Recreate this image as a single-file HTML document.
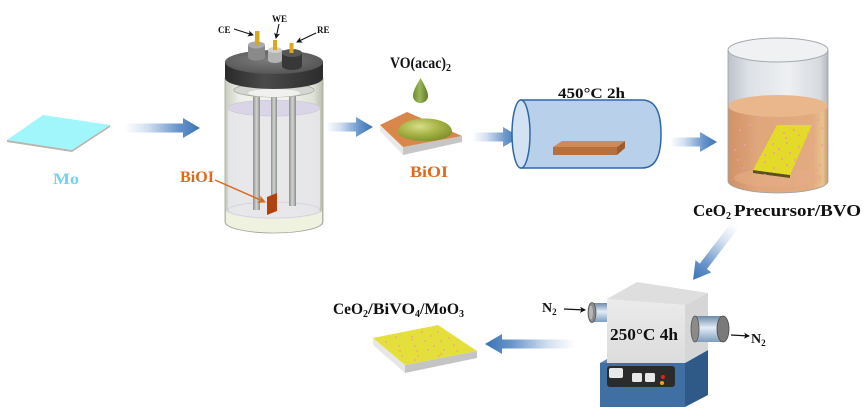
<!DOCTYPE html>
<html><head><meta charset="utf-8"><style>
html,body{margin:0;padding:0;background:#fff;}
svg{display:block;}
text{font-family:"Liberation Serif",serif;font-weight:bold;}
</style></head><body>
<svg width="864" height="417" viewBox="0 0 864 417" xmlns="http://www.w3.org/2000/svg">
<defs>
<linearGradient id="arr" x1="0" y1="0" x2="1" y2="0">
<stop offset="0" stop-color="#ffffff"/><stop offset="0.3" stop-color="#d3e0f0"/><stop offset="0.7" stop-color="#6b96cc"/><stop offset="1" stop-color="#3a72b5"/>
</linearGradient>
<linearGradient id="glass" x1="0" y1="0" x2="1" y2="0">
<stop offset="0" stop-color="#c9cdc0"/><stop offset="0.15" stop-color="#eef0e8"/><stop offset="0.6" stop-color="#f4f5f0"/><stop offset="0.9" stop-color="#dfe2d6"/><stop offset="1" stop-color="#b9bdb0"/>
</linearGradient>
<linearGradient id="lidside" x1="0" y1="0" x2="1" y2="0">
<stop offset="0" stop-color="#2a2a2a"/><stop offset="0.4" stop-color="#4a4a4a"/><stop offset="1" stop-color="#2c2c2c"/>
</linearGradient>
<radialGradient id="lidtop" cx="0.45" cy="0.4" r="0.6">
<stop offset="0" stop-color="#7c7c7c"/><stop offset="1" stop-color="#565656"/>
</radialGradient>
<linearGradient id="rod" x1="0" y1="0" x2="1" y2="0">
<stop offset="0" stop-color="#8d918d"/><stop offset="0.5" stop-color="#d2d5d0"/><stop offset="1" stop-color="#8a8e8a"/>
</linearGradient>
<radialGradient id="dome" cx="0.4" cy="0.35" r="0.7">
<stop offset="0" stop-color="#d7de8a"/><stop offset="0.5" stop-color="#a9b548"/><stop offset="1" stop-color="#7f8f2a"/>
</radialGradient>
<linearGradient id="drop" x1="0" y1="0" x2="1" y2="0">
<stop offset="0" stop-color="#6c8a30"/><stop offset="0.45" stop-color="#9cb55a"/><stop offset="1" stop-color="#5e7a28"/>
</linearGradient>
<linearGradient id="beakglass" x1="0" y1="0" x2="1" y2="0">
<stop offset="0" stop-color="#b6bcc4"/><stop offset="0.2" stop-color="#d9dde2"/><stop offset="0.6" stop-color="#eceef0"/><stop offset="0.92" stop-color="#d2d6db"/><stop offset="1" stop-color="#aab0b8"/>
</linearGradient>
<linearGradient id="liq" x1="0" y1="0" x2="1" y2="0">
<stop offset="0" stop-color="#d09168"/><stop offset="0.3" stop-color="#e0a67c"/><stop offset="0.85" stop-color="#e2ab80"/><stop offset="0.95" stop-color="#e8c38e"/><stop offset="1" stop-color="#c99a6c"/>
</linearGradient>
<linearGradient id="ftube" x1="0" y1="0" x2="0" y2="1">
<stop offset="0" stop-color="#6d8aa8"/><stop offset="0.45" stop-color="#e2edf7"/><stop offset="1" stop-color="#7f9cbc"/>
</linearGradient>
<linearGradient id="ffront" x1="0" y1="0" x2="0" y2="1">
<stop offset="0" stop-color="#ebebeb"/><stop offset="1" stop-color="#dcdcdc"/>
</linearGradient>
<marker id="ah" markerWidth="6" markerHeight="6" refX="5" refY="3" orient="auto" markerUnits="userSpaceOnUse">
<path d="M0,0 L6,3 L0,6 L1.5,3 Z" fill="#111"/>
</marker>
<marker id="aho" markerWidth="8" markerHeight="8" refX="7" refY="4" orient="auto" markerUnits="userSpaceOnUse">
<path d="M0,0 L8,4 L0,8 L2,4 Z" fill="#d9691e"/>
</marker>
</defs>

<!-- Mo plate -->
<polygon points="7,140 72,150 110,125 110,127 72,152 7,142" fill="#b9b4ac"/>
<polygon points="7,140 43,115 110,125 72,150" fill="#a0f6fb"/>
<text x="53" y="184" font-size="16" fill="#6fd3f1" textLength="26" lengthAdjust="spacingAndGlyphs">Mo</text>

<!-- arrows -->
<path transform="translate(125,128)" d="M0,-4.5 H58 V-10 L75,0 L58,10 V4.5 H0 Z" fill="url(#arr)"/>
<path transform="translate(326,127)" d="M0,-4.5 H30 V-10 L47,0 L30,10 V4.5 H0 Z" fill="url(#arr)"/>
<path transform="translate(472,137)" d="M0,-4.5 H31 V-10 L48,0 L31,10 V4.5 H0 Z" fill="url(#arr)"/>
<path transform="translate(670,142)" d="M0,-4.5 H30 V-10 L47,0 L30,10 V4.5 H0 Z" fill="url(#arr)"/>
<path transform="translate(735,225) rotate(127.4)" d="M0,-4.5 H52 V-10 L69,0 L52,10 V4.5 H0 Z" fill="url(#arr)"/>
<path transform="translate(575,344) rotate(180)" d="M0,-4.5 H73 V-10 L90,0 L73,10 V4.5 H0 Z" fill="url(#arr)"/>

<!-- Electrochemical cell -->
<path d="M225,78 L225,222 A49,11 0 0 0 323,222 L323,78 Z" fill="url(#glass)" stroke="#9ea392" stroke-width="0.8"/>
<path d="M228,108 L228,212 A46,9 0 0 0 320,212 L320,108 Z" fill="#e7e7ea" opacity="0.9"/>
<ellipse cx="274" cy="108" rx="46" ry="8" fill="#dad5e6" stroke="#c8c2d8" stroke-width="0.6"/>
<path d="M226,210 L226,222 A48,10 0 0 0 322,222 L322,210 A48,9 0 0 1 226,210 Z" fill="#eef2df"/>
<ellipse cx="274" cy="210" rx="46" ry="8" fill="none" stroke="#cfcfe0" stroke-width="0.8"/>
<!-- rods -->
<rect x="253" y="92" width="7" height="118" fill="url(#rod)"/>
<rect x="271" y="92" width="6" height="104" fill="url(#rod)"/>
<rect x="289" y="92" width="7" height="114" fill="url(#rod)"/>
<!-- inner rim -->
<ellipse cx="274" cy="90" rx="40" ry="7" fill="#d4d6d2" stroke="#a9aca6" stroke-width="0.8"/>
<ellipse cx="274" cy="93" rx="26" ry="4" fill="#f0f1ee"/>
<!-- BiOI electrode -->
<polygon points="267,197 277,193 277,211 267,215" fill="#b0420f"/>
<line x1="215" y1="180" x2="265" y2="202" stroke="#d9691e" stroke-width="1.5" marker-end="url(#aho)"/>
<text x="180" y="182" font-size="16" fill="#e06a1c" textLength="34" lengthAdjust="spacingAndGlyphs">BiOI</text>
<!-- lid -->
<path d="M225,62 L225,78 A49,11 0 0 0 323,78 L323,62 Z" fill="url(#lidside)"/>
<ellipse cx="274" cy="62" rx="49" ry="12" fill="url(#lidtop)"/>
<!-- caps -->
<path d="M248,45 L248,57 A8.5,3.5 0 0 0 265,57 L265,45 Z" fill="#8a8a8a"/>
<ellipse cx="256.5" cy="45" rx="8.5" ry="3.5" fill="#a9a9a9"/>
<path d="M268,50 L268,60 A7,3 0 0 0 282,60 L282,50 Z" fill="#b4b4b4"/>
<ellipse cx="275" cy="50" rx="7" ry="3" fill="#d0d0d0"/>
<path d="M282,53 L282,66 A10,4 0 0 0 302,66 L302,53 Z" fill="#383838"/>
<ellipse cx="292" cy="53" rx="10" ry="4" fill="#565656"/>
<!-- pins -->
<rect x="255" y="31" width="4.5" height="14" fill="#d9a81e"/>
<rect x="273" y="40" width="4" height="10" fill="#d9a81e"/>
<rect x="289.5" y="43" width="4" height="10" fill="#d9a81e"/>
<!-- labels -->
<text x="218" y="33" font-size="9" fill="#111">CE</text>
<text x="272" y="22" font-size="9" fill="#111">WE</text>
<text x="317" y="33" font-size="9" fill="#111">RE</text>
<line x1="234" y1="29" x2="253" y2="35" stroke="#111" stroke-width="1.1" marker-end="url(#ah)"/>
<line x1="279" y1="24" x2="276" y2="38" stroke="#111" stroke-width="1.1" marker-end="url(#ah)"/>
<line x1="316" y1="33" x2="297" y2="42" stroke="#111" stroke-width="1.1" marker-end="url(#ah)"/>

<!-- Drop-coating -->
<text x="390" y="68" font-size="16" fill="#111"><tspan textLength="56" lengthAdjust="spacingAndGlyphs">VO(acac)</tspan><tspan font-size="10" dy="3">2</tspan></text>
<path d="M420.5,78 C416,86 413,91 413,96 A7.5,7 0 0 0 428,96 C428,91 425,86 420.5,78 Z" fill="url(#drop)"/>
<polygon points="380,125 403,147 403,155 380,131" fill="#e9e9e9"/>
<polygon points="403,147 462,136 462,142 403,155" fill="#c6c6c6"/>
<polygon points="380,125 407,112 462,136 403,147" fill="#d9864a"/>
<path d="M398,132 C398,114 452,114 452,132 A27,9 0 0 1 398,132 Z" fill="url(#dome)"/>
<text x="410" y="177" font-size="16" fill="#e06a1c" textLength="38" lengthAdjust="spacingAndGlyphs">BiOI</text>

<!-- Tube furnace 450 -->
<text x="558" y="98" font-size="15" fill="#111" textLength="67" lengthAdjust="spacingAndGlyphs">450°C 2h</text>
<path d="M521,100 L642,100 C657,100 661,115 661,134 C661,153 657,168 642,168 L521,168 Z" fill="#b9d0ea" stroke="#2f67a6" stroke-width="1.5"/>
<ellipse cx="521" cy="134" rx="9" ry="34" fill="#d2e2f3" stroke="#2f67a6" stroke-width="1.5"/>
<polygon points="553,147 617,147 617,155 553,155" fill="#b86f3e"/>
<polygon points="617,147 625,141 625,148 617,155" fill="#9c5a30"/>
<polygon points="553,147 562,141 625,141 617,147" fill="#d08a56"/>

<!-- Beaker -->
<ellipse cx="778" cy="50" rx="50" ry="12" fill="#f0f1f3"/>
<path d="M728,50 L728,181 A50,12 0 0 0 828,181 L828,50 A50,12 0 0 1 728,50 Z" fill="url(#beakglass)" opacity="0.9"/>
<path d="M728,106 L728,181 A50,12 0 0 0 828,181 L828,106 Z" fill="url(#liq)"/>
<ellipse cx="778" cy="106" rx="50" ry="11" fill="#eab68c"/>
<ellipse cx="778" cy="178" rx="44" ry="9" fill="#e4ad84" opacity="0.6"/>
<polygon points="753,170 790,175 790,178 753,173" fill="#5b5020"/>
<polygon points="753,170 777,125 812,125 790,175" fill="#e3da2a"/>
<g fill="#f29aa8">
<circle cx="765" cy="162" r="1"/><circle cx="774" cy="168" r="1"/><circle cx="787" cy="165" r="1"/><circle cx="774" cy="153" r="1"/><circle cx="790" cy="153" r="1"/><circle cx="773" cy="144" r="1"/><circle cx="787" cy="143" r="1"/><circle cx="799" cy="147" r="1"/><circle cx="784" cy="133" r="1"/><circle cx="799" cy="135" r="1"/><circle cx="794" cy="130" r="1"/><circle cx="808" cy="134" r="1"/><circle cx="765" cy="155" r="1"/><circle cx="782" cy="159" r="1"/><circle cx="786" cy="138" r="1"/><circle cx="779" cy="149" r="1"/><circle cx="795" cy="160" r="1"/>
<circle cx="740" cy="130" r="1"/><circle cx="745" cy="145" r="1"/><circle cx="738" cy="160" r="1"/><circle cx="750" cy="125" r="1"/><circle cx="760" cy="118" r="1"/><circle cx="742" cy="175" r="1"/><circle cx="748" cy="185" r="1"/><circle cx="805" cy="160" r="1"/><circle cx="810" cy="150" r="1"/><circle cx="815" cy="140" r="1"/><circle cx="820" cy="165" r="1"/><circle cx="808" cy="175" r="1"/><circle cx="815" cy="178" r="1"/><circle cx="800" cy="182" r="1"/><circle cx="770" cy="182" r="1"/><circle cx="760" cy="185" r="1"/><circle cx="822" cy="128" r="1"/><circle cx="818" cy="120" r="1"/><circle cx="735" cy="150" r="1"/><circle cx="755" cy="138" r="1"/><circle cx="798" cy="168" r="1"/><circle cx="812" cy="158" r="1"/><circle cx="805" cy="185" r="1"/><circle cx="825" cy="150" r="1"/><circle cx="765" cy="175" r="1"/><circle cx="780" cy="182" r="1"/><circle cx="790" cy="186" r="1"/><circle cx="744" cy="168" r="1"/><circle cx="752" cy="150" r="1"/><circle cx="817" cy="170" r="1"/><circle cx="822" cy="145" r="1"/><circle cx="803" cy="177" r="1"/>
</g>
<ellipse cx="778" cy="50" rx="50" ry="12" fill="none" stroke="#a4aab2" stroke-width="1"/>
<path d="M728,50 L728,181 A50,12 0 0 0 828,181 L828,50" fill="none" stroke="#9aa1aa" stroke-width="0.8"/>
<text x="693" y="216" font-size="17" fill="#111"><tspan textLength="33" lengthAdjust="spacingAndGlyphs">CeO</tspan><tspan font-size="10" dy="3">2</tspan><tspan dy="-3" dx="3" textLength="127" lengthAdjust="spacingAndGlyphs">Precursor/BVO</tspan></text>

<!-- Furnace -->
<!-- left tube -->
<rect x="592" y="303" width="16" height="19" fill="url(#ftube)"/>
<ellipse cx="592" cy="312.5" rx="4" ry="10" fill="#8a8a8a" stroke="#555" stroke-width="0.8"/>
<ellipse cx="591" cy="312.5" rx="2" ry="7" fill="#b5b5b5"/>
<text x="542" y="312" font-size="14" fill="#111">N<tspan font-size="9" dy="3">2</tspan></text>
<line x1="564" y1="309" x2="585" y2="310" stroke="#111" stroke-width="1.2" marker-end="url(#ah)"/>
<!-- base -->
<polygon points="685,363 708,350 708,395 685,407" fill="#2f5a88"/>
<polygon points="600,363 685,363 685,407 600,407" fill="#3f6fa3"/>
<polygon points="600,363 607,359 708,350 685,363" fill="#5f86b3"/>
<rect x="607" y="366" width="68" height="21" rx="3" fill="#2b2b2b"/>
<rect x="609" y="368" width="14" height="10" rx="2" fill="#e8e8e8"/>
<rect x="632" y="373" width="10" height="9" rx="1.5" fill="#e8e8e8"/>
<rect x="645" y="373" width="10" height="9" rx="1.5" fill="#e8e8e8"/>
<circle cx="663" cy="377" r="2" fill="#e12020"/>
<circle cx="662" cy="383" r="2" fill="#f0a020"/>
<!-- box -->
<polygon points="607,299 685,305 685,363 607,363" fill="url(#ffront)"/>
<polygon points="685,305 708,293 708,350 685,363" fill="#d6d6d6"/>
<polygon points="607,299 637,282 708,293 685,305" fill="#dedede"/>
<!-- right tube -->
<rect x="695" y="316" width="28" height="26" fill="url(#ftube)"/>
<ellipse cx="695" cy="329" rx="4" ry="13" fill="#8a8a8a" stroke="#555" stroke-width="0.8"/>
<ellipse cx="723" cy="329" rx="6" ry="13" fill="#7a7a7a" stroke="#4a4a4a" stroke-width="0.8"/>
<text x="610" y="340" font-size="17" fill="#111" textLength="68" lengthAdjust="spacingAndGlyphs">250°C 4h</text>
<line x1="731" y1="335" x2="749" y2="336" stroke="#111" stroke-width="1.2" marker-end="url(#ah)"/>
<text x="751" y="343" font-size="14" fill="#111">N<tspan font-size="9" dy="3">2</tspan></text>

<!-- Final product -->
<text x="333" y="314" font-size="16" fill="#111"><tspan textLength="30" lengthAdjust="spacingAndGlyphs">CeO</tspan><tspan font-size="10" dy="3">2</tspan><tspan dy="-3" textLength="47" lengthAdjust="spacingAndGlyphs">/BiVO</tspan><tspan font-size="10" dy="3">4</tspan><tspan dy="-3" textLength="39" lengthAdjust="spacingAndGlyphs">/MoO</tspan><tspan font-size="10" dy="3">3</tspan></text>
<polygon points="373,338 405,365 405,373 373,345" fill="#e6e6e6"/>
<polygon points="405,365 477,351 477,358 405,373" fill="#c4c4c4"/>
<polygon points="373,338 438,325 477,351 405,365" fill="#e5df3c"/>
<g fill="#efa19a">
<circle cx="386" cy="342" r="0.9"/><circle cx="396" cy="337" r="0.9"/><circle cx="412" cy="337" r="0.9"/><circle cx="422" cy="332" r="0.9"/><circle cx="438" cy="332" r="0.9"/><circle cx="399" cy="346" r="0.9"/><circle cx="415" cy="346" r="0.9"/><circle cx="425" cy="341" r="0.9"/><circle cx="441" cy="341" r="0.9"/><circle cx="402" cy="356" r="0.9"/><circle cx="418" cy="356" r="0.9"/><circle cx="428" cy="350" r="0.9"/><circle cx="444" cy="350" r="0.9"/><circle cx="454" cy="345" r="0.9"/><circle cx="415" cy="360" r="0.9"/><circle cx="441" cy="354" r="0.9"/><circle cx="457" cy="351" r="0.9"/><circle cx="400" cy="351" r="0.9"/><circle cx="412" cy="340" r="0.9"/><circle cx="431" cy="336" r="0.9"/><circle cx="417" cy="351" r="0.9"/><circle cx="434" cy="346" r="0.9"/><circle cx="449" cy="338" r="0.9"/><circle cx="439" cy="356" r="0.9"/>
</g>
</svg>
</body></html>
